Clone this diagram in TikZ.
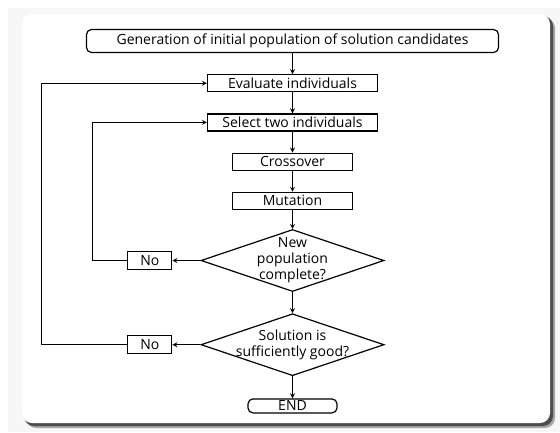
\documentclass[tikz,border=0pt]{standalone}
\usepackage{fontspec}
\setmainfont{Open Sans}
\usetikzlibrary{positioning}
\usetikzlibrary{arrows}
\usetikzlibrary{shapes.geometric}

\tikzset{
  stepbox/.style={draw, inner sep=0pt, minimum height=17pt},
  endbox/.style={draw, rounded corners=5pt, inner sep=0pt},
  decision/.style={draw, diamond, inner sep=0pt,
    minimum width=183pt, minimum height=62pt},
  nobox/.style={draw, inner sep=0pt, minimum width=44pt, minimum height=18pt}
}

\begin{document}
\begin{tikzpicture}[x=1pt, y=-1pt, line width=1.2pt,
    font=\fontsize{14}{16}\selectfont]
 % Frame with shadow
 \useasboundingbox (0,0) rectangle (560,432);
 \fill[black!3] (8,8) rectangle (560,432);
 \fill[black!35, rounded corners=10pt] (26,18) rectangle (555,428);
 \fill[black!70, rounded corners=10pt] (24,16) rectangle (553,426);
 \fill[white, rounded corners=10pt] (22,14) rectangle (550,423);

 % Start
 \node[endbox, minimum width=412pt, minimum height=23pt] (init) at (292.5,41)
    {Generation of initial population of solution candidates};

 % Steps
 \node[stepbox, minimum width=170pt, below=21pt of init] (evaluate)
    {Evaluate individuals};
 \node[stepbox, minimum width=170pt, below=21pt of evaluate] (select)
    {Select two individuals};
 \node[stepbox, minimum width=120pt, below=21pt of select] (crossover)
    {Crossover};
 \node[stepbox, minimum width=120pt, below=21pt of crossover] (mutation)
    {Mutation};

 % Decisions
 \node[decision, below=19pt of mutation,
    label={[align=center]center:New\\population\\complete?}] (complete) {};
 \node[decision, below=21pt of complete,
    label={[align=center]center:Solution is\\sufficiently good?}] (good) {};

 \node[endbox, minimum width=89pt, minimum height=14pt, below=22pt of good]
    (stop) {END};

 % No boxes
 \node[nobox, left=28pt of complete] (nofull) {No};
 \node[nobox, left=28pt of good] (nogood) {No};

 % Arrows down the main line
 \draw[-stealth] (init) -- (evaluate);
 \draw[-stealth] (evaluate) -- (select);
 \draw[-stealth] (select) -- (crossover);
 \draw[-stealth] (crossover) -- (mutation);
 \draw[-stealth] (mutation) -- (complete);
 \draw[-stealth] (complete) -- (good);
 \draw[-stealth] (good) -- (stop);

 % Loops back
 \draw[-stealth] (complete.west) -- (nofull.east);
 \draw[-stealth] (good.west) -- (nogood.east);
 \draw[-stealth] (nofull.west) -- ++(-35,0) |- (select.west);
 \draw[-stealth] (nogood.west) -- ++(-86,0) |- (evaluate.west);

\end{tikzpicture}
\end{document}
